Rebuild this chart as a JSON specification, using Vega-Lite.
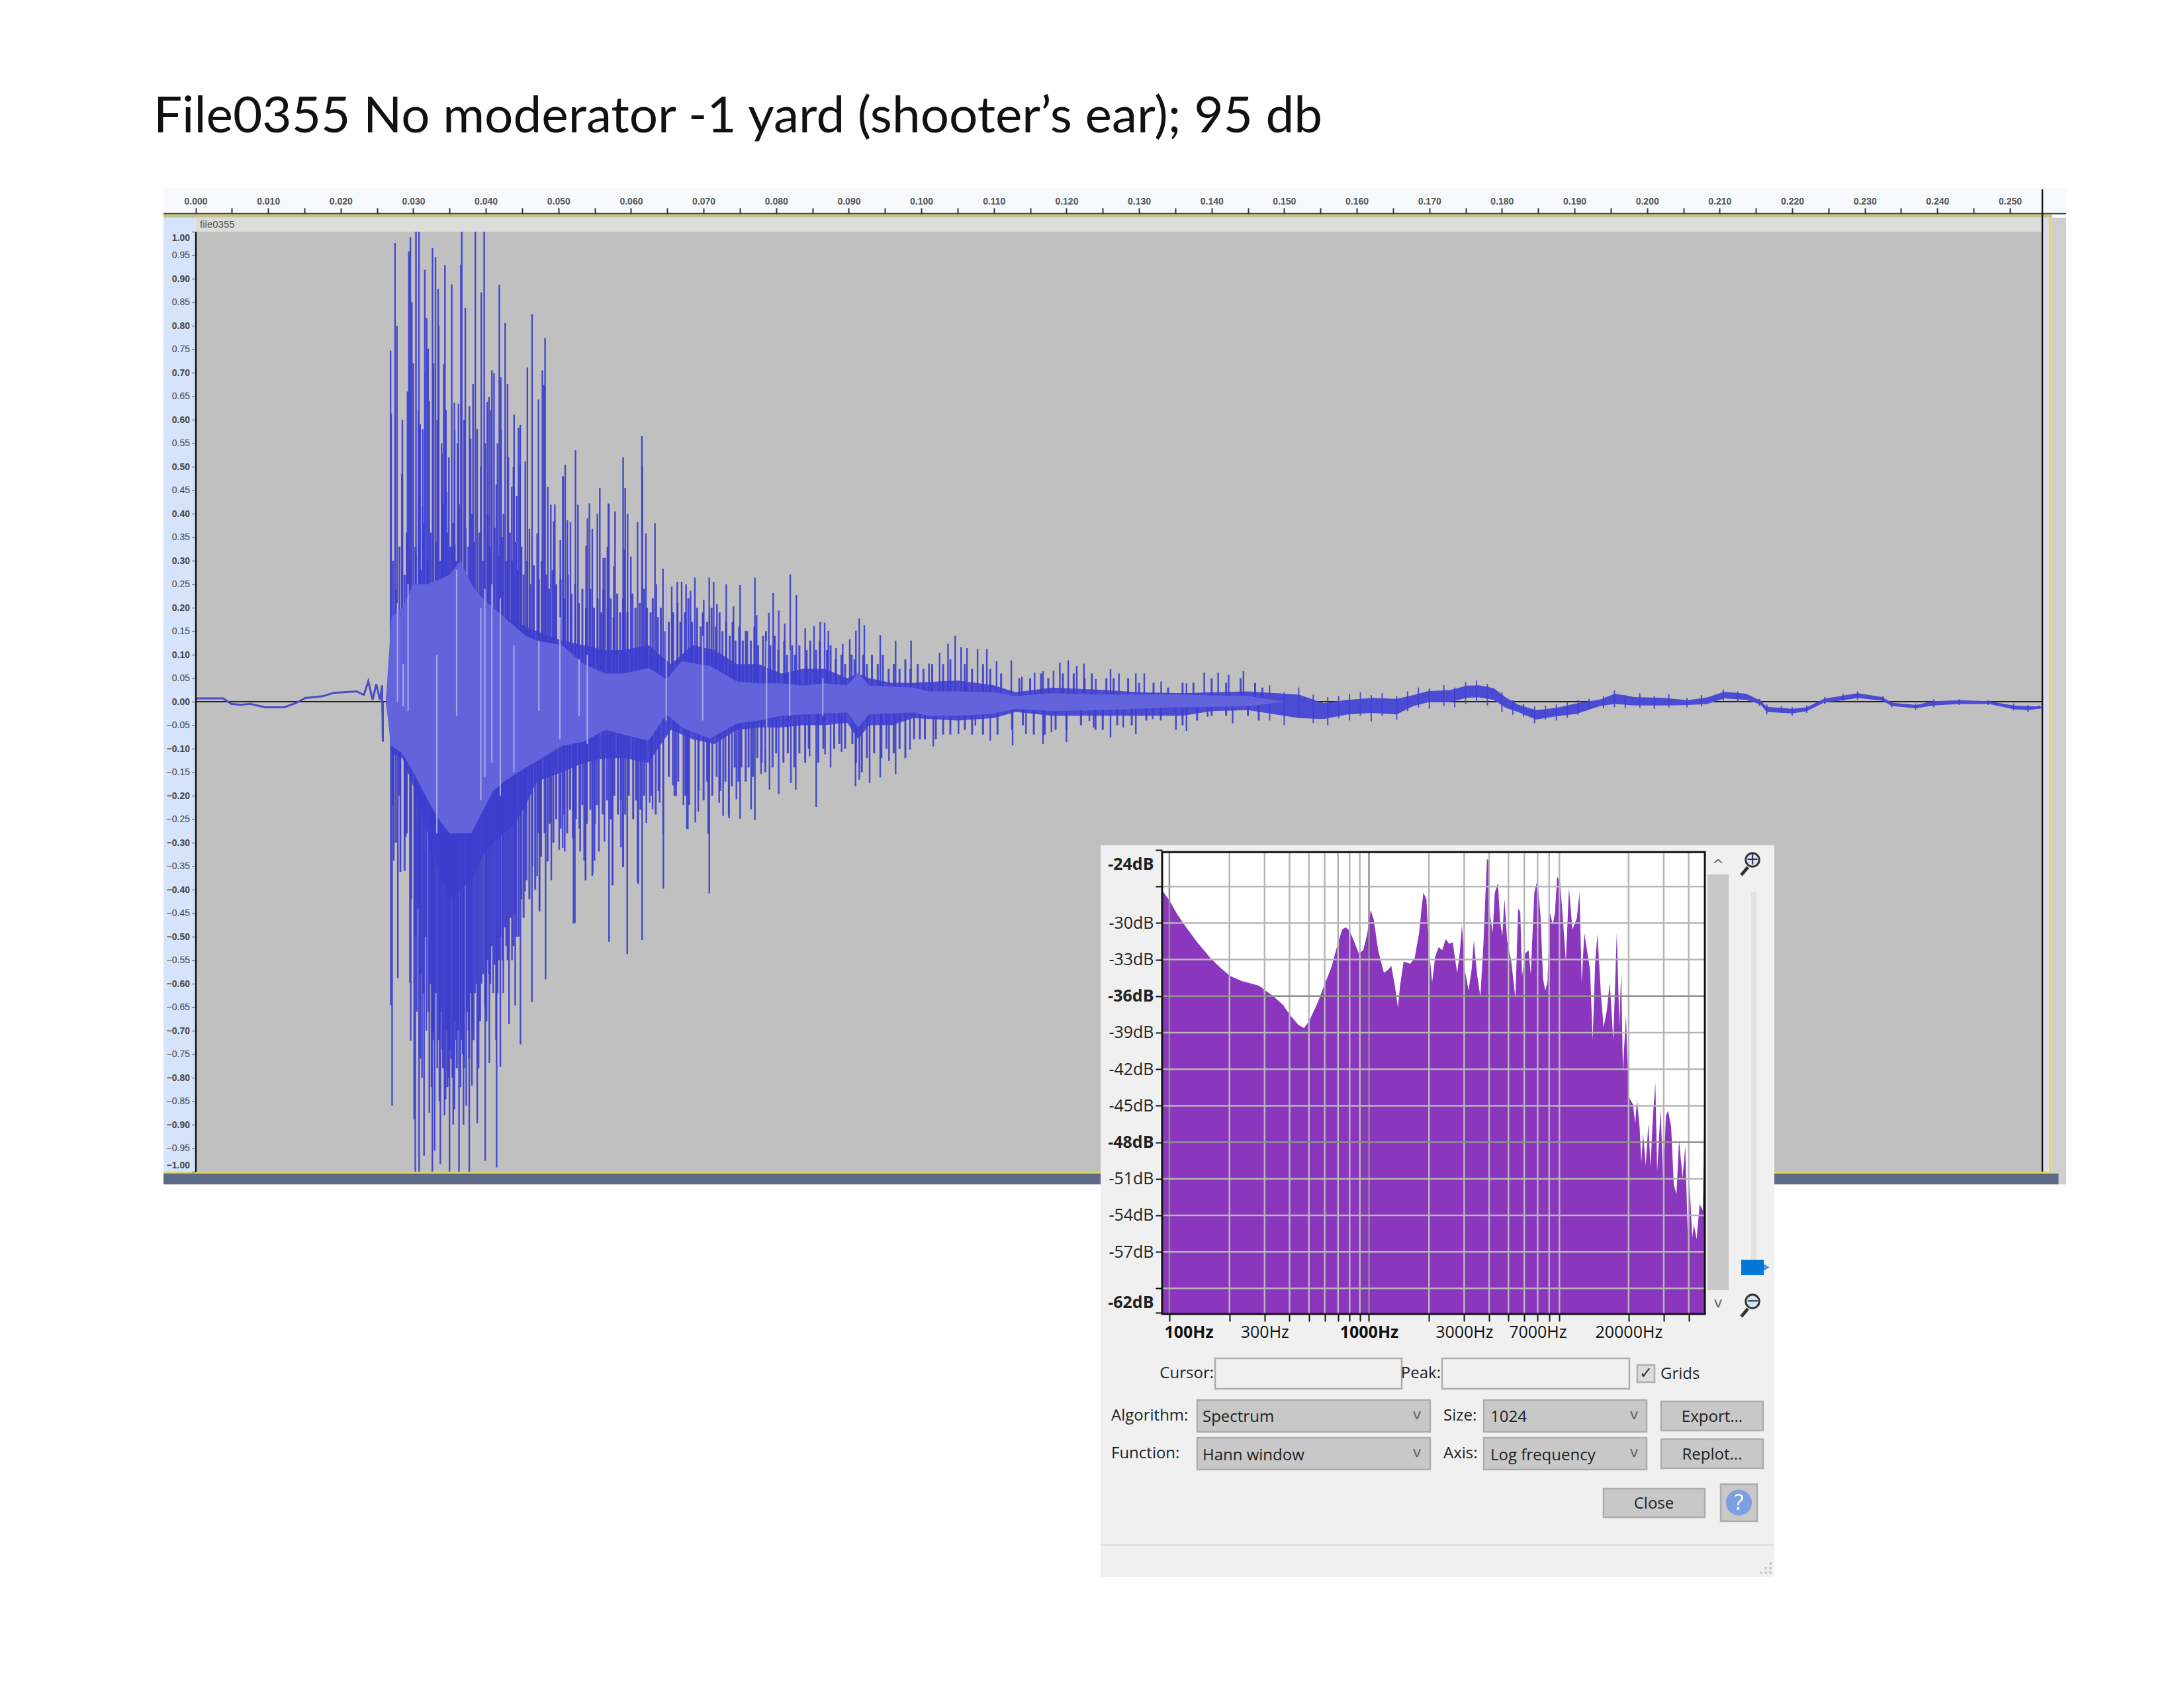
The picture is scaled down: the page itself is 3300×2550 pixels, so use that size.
{"$schema":"https://vega.github.io/schema/vega-lite/v6.json","width":3300,"height":2550,"padding":0,"autosize":{"type":"none"},"background":"white",
"title":{"text":"File0355 No moderator -1 yard (shooter’s ear); 95 db","anchor":"start","frame":"group","align":"left","baseline":"alphabetic","dx":232,"offset":-276,"font":"Lato","fontSize":76.5,"fontWeight":"normal","color":"#111111"},
"config":{"view":{"stroke":null}},
"resolve":{"scale":{"x":"independent","y":"independent","color":"independent"}},
"layer":[
{"encoding":{
"x":{"field":"t","type":"quantitative","title":null,"scale":{"domain":[0,0.25447],"range":[295.5,3086],"nice":false,"zero":false},
"axis":{"orient":"top","offset":-323,"zindex":1,"domain":false,"grid":false,"tickSize":9,"tickColor":"#333333","tickWidth":2,"labelFont":"Liberation Sans","labelFontSize":14,"labelFontWeight":"bold","labelColor":"#555555","labelPadding":3,"labelFlush":false,"labelOverlap":false,"values":[0,0.005,0.01,0.015,0.02,0.025,0.03,0.035,0.04,0.045,0.05,0.055,0.06,0.065,0.07,0.075,0.08,0.085,0.09,0.095,0.1,0.105,0.11,0.115,0.12,0.125,0.13,0.135,0.14,0.145,0.15,0.155,0.16,0.165,0.17,0.175,0.18,0.185,0.19,0.195,0.2,0.205,0.21,0.215,0.22,0.225,0.23,0.235,0.24,0.245,0.25],"labelExpr":"round(datum.value*1000)%10==0?format(datum.value,'.3f'):''"}},
"y":{"field":"amp","type":"quantitative","title":null,"scale":{"domain":[-1,1],"range":[1770,350],"nice":false,"zero":false},
"axis":{"orient":"left","offset":-295.5,"zindex":1,"domain":true,"domainColor":"#111111","domainWidth":2.5,"grid":false,"tickSize":6,"tickColor":"#444444","labelFont":"Liberation Sans","labelFontSize":14,"labelColor":"#444444","labelPadding":3,"labelOverlap":false,"values":[-1,-0.95,-0.9,-0.85,-0.8,-0.75,-0.7,-0.65,-0.6,-0.55,-0.5,-0.45,-0.4,-0.35,-0.3,-0.25,-0.2,-0.15,-0.1,-0.05,0,0.05,0.1,0.15,0.2,0.25,0.3,0.35,0.4,0.45,0.5,0.55,0.6,0.65,0.7,0.75,0.8,0.85,0.9,0.95,1],"format":".2f",
"labelFontWeight":{"condition":{"test":"abs(round(datum.value*10)-datum.value*10)<0.01","value":"bold"},"value":"normal"},
"labelOffset":{"condition":[{"test":"datum.value==1","value":9},{"test":"datum.value==-1","value":-10}],"value":0}}}},
"layer":[
{"mark":{"type":"rect"},"data":{"values":[
{"part":"ruler","t":-0.00442,"t2":0.25775,"amp":1.0398,"amp2":1.0933},
{"part":"strip","t":-0.00442,"t2":0,"amp":-1.0075,"amp2":1.03},
{"part":"rulerline","t":-0.00442,"t2":0.25775,"amp":1.0368,"amp2":1.0398},
{"part":"olive","t":-0.00442,"t2":0.2558,"amp":1.03,"amp2":1.0368},
{"part":"header","t":0,"t2":0.25447,"amp":1,"amp2":1.03},
{"part":"plot","t":0,"t2":0.25447,"amp":-1,"amp2":1},
{"part":"edge","t":0.25447,"t2":0.2554,"amp":-1,"amp2":1.03},
{"part":"yellow","t":0.2554,"t2":0.2557,"amp":-1.004,"amp2":1.03},
{"part":"scroll","t":0.2557,"t2":0.25775,"amp":-1.027,"amp2":1.03},
{"part":"yellow","t":-0.00442,"t2":0.2557,"amp":-1.004,"amp2":-1},
{"part":"slate","t":-0.00442,"t2":0.2567,"amp":-1.027,"amp2":-1.004}]},
"encoding":{"x2":{"field":"t2"},"y2":{"field":"amp2"},"color":{"field":"part","type":"nominal","legend":null,"scale":{"domain":["ruler","strip","rulerline","olive","header","plot","edge","yellow","scroll","slate"],"range":["#f7f9fd","#d5e4fb","#45453c","#c4c48a","#dcdcd8","#c0c0c0","#dcdcec","#d8d860","#cfcfcf","#5f6988"]}}}},
{"mark":{"type":"rule","color":"#222222","strokeWidth":2},"data":{"values":[{"t":0,"t2":0.25447,"amp":0}]},"encoding":{"x2":{"field":"t2"}}},
{"mark":{"type":"rule","color":"#111111","strokeWidth":2.5},"data":{"values":[{"t":0.25447,"amp":-1,"amp2":1.09}]},"encoding":{"y2":{"field":"amp2"}}},
{"mark":{"type":"area","color":"#4b4bd3","interpolate":"linear"},"data":{"values":[
{"t":0.0263,"amp":0,"amp2":0},{"t":0.027,"amp":-0.11,"amp2":0.15},{"t":0.0285,"amp":-0.12,"amp2":0.16},{"t":0.03,"amp":-0.18,"amp2":0.18},{"t":0.032,"amp":-0.28,"amp2":0.2},{"t":0.0335,"amp":-0.36,"amp2":0.2},{"t":0.035,"amp":-0.42,"amp2":0.2},{"t":0.0365,"amp":-0.4,"amp2":0.22},{"t":0.038,"amp":-0.38,"amp2":0.2},{"t":0.0395,"amp":-0.33,"amp2":0.2},{"t":0.041,"amp":-0.3,"amp2":0.19},{"t":0.0425,"amp":-0.28,"amp2":0.18},{"t":0.044,"amp":-0.26,"amp2":0.17},{"t":0.0455,"amp":-0.22,"amp2":0.16},{"t":0.047,"amp":-0.17,"amp2":0.15},{"t":0.0505,"amp":-0.15,"amp2":0.13},{"t":0.0535,"amp":-0.13,"amp2":0.12},{"t":0.0565,"amp":-0.12,"amp2":0.11},{"t":0.059,"amp":-0.12,"amp2":0.11},{"t":0.0624,"amp":-0.13,"amp2":0.12},{"t":0.0655,"amp":-0.06,"amp2":0.08},{"t":0.0685,"amp":-0.08,"amp2":0.12},{"t":0.0715,"amp":-0.09,"amp2":0.11},{"t":0.0746,"amp":-0.06,"amp2":0.08},{"t":0.0776,"amp":-0.055,"amp2":0.08},{"t":0.0807,"amp":-0.055,"amp2":0.06},{"t":0.0837,"amp":-0.05,"amp2":0.07},{"t":0.0867,"amp":-0.05,"amp2":0.07},{"t":0.0898,"amp":-0.045,"amp2":0.05},{"t":0.0913,"amp":-0.08,"amp2":0.06},{"t":0.0928,"amp":-0.05,"amp2":0.05},{"t":0.0959,"amp":-0.05,"amp2":0.04},{"t":0.0989,"amp":-0.035,"amp2":0.04},{"t":0.105,"amp":-0.04,"amp2":0.045},{"t":0.11,"amp":-0.035,"amp2":0.035},{"t":0.113,"amp":-0.022,"amp2":0.02},{"t":0.118,"amp":-0.03,"amp2":0.03},{"t":0.125,"amp":-0.03,"amp2":0.025},{"t":0.13,"amp":-0.03,"amp2":0.02},{"t":0.136,"amp":-0.03,"amp2":0.018},{"t":0.14,"amp":-0.02,"amp2":0.02},{"t":0.145,"amp":-0.018,"amp2":0.022},{"t":0.152,"amp":-0.035,"amp2":0.015},{"t":0.15544,"amp":-0.037,"amp2":-0.003},{"t":0.15879,"amp":-0.027,"amp2":0.004},{"t":0.16213,"amp":-0.024,"amp2":0.008},{"t":0.16548,"amp":-0.027,"amp2":0.006},{"t":0.16782,"amp":-0.009,"amp2":0.014},{"t":0.16983,"amp":-0.0015,"amp2":0.0225},{"t":0.17284,"amp":-0.001,"amp2":0.0245},{"t":0.17518,"amp":0.0085,"amp2":0.034},{"t":0.17685,"amp":0.009,"amp2":0.035},{"t":0.17886,"amp":0.004,"amp2":0.029},{"t":0.18053,"amp":-0.013,"amp2":0.009},{"t":0.1822,"amp":-0.022,"amp2":-0.006},{"t":0.18468,"amp":-0.038,"amp2":-0.018},{"t":0.18756,"amp":-0.031,"amp2":-0.013},{"t":0.19023,"amp":-0.026,"amp2":-0.004},{"t":0.19358,"amp":-0.009,"amp2":0.005},{"t":0.19558,"amp":-0.005,"amp2":0.017},{"t":0.19826,"amp":-0.008,"amp2":0.01},{"t":0.20227,"amp":-0.008,"amp2":0.008},{"t":0.20562,"amp":-0.007,"amp2":0.003},{"t":0.2083,"amp":-0.005,"amp2":0.009},{"t":0.21064,"amp":0.007,"amp2":0.021},{"t":0.21365,"amp":0.004,"amp2":0.017},{"t":0.21566,"amp":-0.006,"amp2":0.002},{"t":0.21646,"amp":-0.022,"amp2":-0.011},{"t":0.22001,"amp":-0.025,"amp2":-0.015},{"t":0.22201,"amp":-0.02,"amp2":-0.012},{"t":0.22435,"amp":-0.002,"amp2":0.006},{"t":0.22703,"amp":0.003,"amp2":0.013},{"t":0.22904,"amp":0.008,"amp2":0.018},{"t":0.23238,"amp":0.002,"amp2":0.01},{"t":0.23372,"amp":-0.009,"amp2":-0.002},{"t":0.23707,"amp":-0.014,"amp2":-0.007},{"t":0.23941,"amp":-0.008,"amp2":0.001},{"t":0.24309,"amp":-0.005,"amp2":0.003},{"t":0.2471,"amp":-0.005,"amp2":0.001},{"t":0.25045,"amp":-0.016,"amp2":-0.008},{"t":0.25246,"amp":-0.018,"amp2":-0.01},{"t":0.25446,"amp":-0.014,"amp2":-0.01}]},
"encoding":{"y2":{"field":"amp2"}}},
{"mark":{"type":"rule","color":"#4040cf","strokeWidth":2.4,"opacity":0.95},"data":{"values":[
{"t":0.02687,"amp":0.747},{"t":0.02695,"amp":0.613},{"t":0.02748,"amp":0.976},{"t":0.02775,"amp":0.8},{"t":0.0285,"amp":0.483},{"t":0.02939,"amp":0.958},{"t":0.0296,"amp":0.988},{"t":0.0298,"amp":0.85},{"t":0.03037,"amp":1},{"t":0.03078,"amp":1},{"t":0.03094,"amp":0.59},{"t":0.03159,"amp":0.919},{"t":0.03184,"amp":0.817},{"t":0.03204,"amp":0.751},{"t":0.03265,"amp":0.965},{"t":0.03306,"amp":0.946},{"t":0.03342,"amp":0.878},{"t":0.0335,"amp":0.8},{"t":0.03395,"amp":0.528},{"t":0.03436,"amp":0.929},{"t":0.0342,"amp":0.718},{"t":0.0353,"amp":0.888},{"t":0.03566,"amp":0.636},{"t":0.03623,"amp":0.634},{"t":0.03656,"amp":0.93},{"t":0.03668,"amp":1},{"t":0.03717,"amp":0.838},{"t":0.03774,"amp":0.629},{"t":0.03823,"amp":0.676},{"t":0.03855,"amp":1},{"t":0.03937,"amp":0.871},{"t":0.03977,"amp":1},{"t":0.04018,"amp":0.638},{"t":0.04043,"amp":0.648},{"t":0.04083,"amp":0.705},{"t":0.04112,"amp":0.699},{"t":0.04185,"amp":0.887},{"t":0.04205,"amp":0.69},{"t":0.04266,"amp":0.806},{"t":0.04299,"amp":0.676},{"t":0.04389,"amp":0.611},{"t":0.0445,"amp":0.583},{"t":0.04474,"amp":0.589},{"t":0.04543,"amp":0.511},{"t":0.04572,"amp":0.711},{"t":0.04637,"amp":0.824},{"t":0.04726,"amp":0.643},{"t":0.04779,"amp":0.705},{"t":0.048,"amp":0.674},{"t":0.04816,"amp":0.774},{"t":0.0495,"amp":0.42},{"t":0.05064,"amp":0.479},{"t":0.05093,"amp":0.504},{"t":0.05235,"amp":0.535},{"t":0.05427,"amp":0.422},{"t":0.054,"amp":0.39},{"t":0.0557,"amp":0.455},{"t":0.05695,"amp":0.42},{"t":0.0578,"amp":0.405},{"t":0.0592,"amp":0.455},{"t":0.05675,"amp":0.33},{"t":0.05907,"amp":0.325},{"t":0.0615,"amp":0.565},{"t":0.0633,"amp":0.38},
{"t":0.0285,"amp":0.6},{"t":0.0292,"amp":0.66},{"t":0.03,"amp":0.72},{"t":0.0307,"amp":0.62},{"t":0.0313,"amp":0.58},{"t":0.0316,"amp":0.7},{"t":0.0322,"amp":0.64},{"t":0.0328,"amp":0.72},{"t":0.0333,"amp":0.6},{"t":0.0339,"amp":0.55},{"t":0.0345,"amp":0.62},{"t":0.0349,"amp":0.52},{"t":0.0357,"amp":0.58},{"t":0.0361,"amp":0.55},{"t":0.037,"amp":0.6},{"t":0.0379,"amp":0.56},{"t":0.0388,"amp":0.58},{"t":0.0393,"amp":0.5},{"t":0.0399,"amp":0.55},{"t":0.0407,"amp":0.62},{"t":0.0416,"amp":0.55},{"t":0.0421,"amp":0.58},{"t":0.0431,"amp":0.52},{"t":0.0438,"amp":0.5},{"t":0.0447,"amp":0.5},
{"t":0.02843,"amp":0.485},{"t":0.03035,"amp":0.311},{"t":0.03126,"amp":0.417},{"t":0.0346,"amp":0.447},{"t":0.03536,"amp":0.33},{"t":0.03573,"amp":0.335},{"t":0.04144,"amp":0.462},{"t":0.04242,"amp":0.4},{"t":0.04357,"amp":0.457},{"t":0.04424,"amp":0.438},{"t":0.046,"amp":0.368},{"t":0.04707,"amp":0.358},{"t":0.04853,"amp":0.457},{"t":0.04895,"amp":0.419},{"t":0.04935,"amp":0.384},{"t":0.05026,"amp":0.344},{"t":0.05062,"amp":0.48},{"t":0.05123,"amp":0.386},{"t":0.05166,"amp":0.382},{"t":0.05269,"amp":0.419},{"t":0.05381,"amp":0.332},{"t":0.05466,"amp":0.368},{"t":0.05536,"amp":0.4},{"t":0.05618,"amp":0.306},{"t":0.05643,"amp":0.306},{"t":0.05688,"amp":0.422},{"t":0.05764,"amp":0.288},{"t":0.05892,"amp":0.52},{"t":0.05953,"amp":0.4},{"t":0.05998,"amp":0.309},{"t":0.0609,"amp":0.382},{"t":0.06156,"amp":0.5},{"t":0.06205,"amp":0.358},
{"t":0.0644,"amp":0.283},{"t":0.06348,"amp":0.25},{"t":0.06561,"amp":0.245},{"t":0.06637,"amp":0.255},{"t":0.06698,"amp":0.255},{"t":0.06759,"amp":0.25},{"t":0.0682,"amp":0.236},{"t":0.0688,"amp":0.264},{"t":0.07002,"amp":0.217},{"t":0.07078,"amp":0.264},{"t":0.07139,"amp":0.255},{"t":0.07184,"amp":0.208},{"t":0.07312,"amp":0.25},{"t":0.07412,"amp":0.203},{"t":0.07503,"amp":0.248},{"t":0.07579,"amp":0.151},{"t":0.07707,"amp":0.264},{"t":0.07731,"amp":0.184},{"t":0.07899,"amp":0.189},{"t":0.07959,"amp":0.231},{"t":0.08035,"amp":0.194},{"t":0.08118,"amp":0.166},{"t":0.08194,"amp":0.271},{"t":0.08279,"amp":0.227},{"t":0.084,"amp":0.156},{"t":0.08522,"amp":0.161},{"t":0.08607,"amp":0.17},{"t":0.08668,"amp":0.168},{"t":0.08719,"amp":0.151},{"t":0.08826,"amp":0.114},{"t":0.08917,"amp":0.123},{"t":0.09014,"amp":0.133},{"t":0.09099,"amp":0.151},{"t":0.09145,"amp":0.177},{"t":0.09215,"amp":0.163},{"t":0.09434,"amp":0.142},{"t":0.09646,"amp":0.13},{"t":0.09859,"amp":0.13},
{"t":0.10106,"amp":0.081},{"t":0.10252,"amp":0.104},{"t":0.10368,"amp":0.123},{"t":0.10467,"amp":0.14},{"t":0.10548,"amp":0.116},{"t":0.1063,"amp":0.114},{"t":0.10775,"amp":0.112},{"t":0.10903,"amp":0.112},{"t":0.11037,"amp":0.086},{"t":0.1124,"amp":0.088},{"t":0.11386,"amp":0.053},{"t":0.11561,"amp":0.062},{"t":0.11677,"amp":0.065},{"t":0.11822,"amp":0.066},{"t":0.11909,"amp":0.083},{"t":0.12025,"amp":0.088},{"t":0.12142,"amp":0.076},{"t":0.12241,"amp":0.081},{"t":0.12404,"amp":0.048},{"t":0.12607,"amp":0.069},{"t":0.12723,"amp":0.06},{"t":0.12956,"amp":0.06},{"t":0.13072,"amp":0.06},{"t":0.13305,"amp":0.043},{"t":0.13654,"amp":0.039},{"t":0.13898,"amp":0.062},{"t":0.1409,"amp":0.062},{"t":0.14235,"amp":0.057},{"t":0.14439,"amp":0.065},
{"t":0.02583,"amp":-0.085},{"t":0.02692,"amp":-0.646},{"t":0.02708,"amp":-0.86},{"t":0.02787,"amp":-0.588},{"t":0.02823,"amp":-0.362},{"t":0.02886,"amp":-0.285},{"t":0.02954,"amp":-0.598},{"t":0.02965,"amp":-0.722},{"t":0.03012,"amp":-0.889},{"t":0.03028,"amp":-1},{"t":0.0308,"amp":-1},{"t":0.03096,"amp":-0.759},{"t":0.03148,"amp":-0.966},{"t":0.03221,"amp":-0.875},{"t":0.03263,"amp":-1},{"t":0.03295,"amp":-0.955},{"t":0.03373,"amp":-0.984},{"t":0.03446,"amp":-0.846},{"t":0.03499,"amp":-1},{"t":0.03567,"amp":-0.868},{"t":0.0363,"amp":-1},{"t":0.03692,"amp":-0.9},{"t":0.03771,"amp":-1},{"t":0.03808,"amp":-0.817},{"t":0.03881,"amp":-0.897},{"t":0.03991,"amp":-0.977},{"t":0.04048,"amp":-0.769},{"t":0.04148,"amp":-0.991},{"t":0.042,"amp":-0.777},{"t":0.0432,"amp":-0.686},{"t":0.04404,"amp":-0.646},{"t":0.04477,"amp":-0.729},{"t":0.04635,"amp":-0.639},{"t":0.04823,"amp":-0.591},{"t":0.0474,"amp":-0.446},{"t":0.04902,"amp":-0.38},{"t":0.05059,"amp":-0.311},{"t":0.05226,"amp":-0.471},{"t":0.05373,"amp":-0.38},{"t":0.05472,"amp":-0.366},{"t":0.05697,"amp":-0.511},{"t":0.05744,"amp":-0.391},{"t":0.0589,"amp":-0.351},{"t":0.05948,"amp":-0.537},{"t":0.06153,"amp":-0.507},{"t":0.061,"amp":-0.388},{"t":0.06446,"amp":-0.398},{"t":0.07079,"amp":-0.408},{"t":0.0677,"amp":-0.271},{"t":0.07503,"amp":-0.249},{"t":0.07346,"amp":-0.242},
{"t":0.0305,"amp":-0.66},{"t":0.0312,"amp":-0.8},{"t":0.0318,"amp":-0.7},{"t":0.0325,"amp":-0.82},{"t":0.0328,"amp":-0.72},{"t":0.0333,"amp":-0.78},{"t":0.0336,"amp":-0.85},{"t":0.034,"amp":-0.74},{"t":0.0343,"amp":-0.88},{"t":0.0348,"amp":-0.8},{"t":0.0352,"amp":-0.76},{"t":0.0355,"amp":-0.9},{"t":0.0359,"amp":-0.72},{"t":0.0365,"amp":-0.82},{"t":0.0368,"amp":-0.75},{"t":0.0373,"amp":-0.86},{"t":0.0376,"amp":-0.7},{"t":0.0381,"amp":-0.7},{"t":0.0385,"amp":-0.62},{"t":0.039,"amp":-0.78},{"t":0.0394,"amp":-0.6},{"t":0.0401,"amp":-0.68},{"t":0.0404,"amp":-0.58},{"t":0.041,"amp":-0.62},{"t":0.0414,"amp":-0.72},{"t":0.0418,"amp":-0.55},{"t":0.0424,"amp":-0.62},{"t":0.0428,"amp":-0.52},{"t":0.0436,"amp":-0.55},{"t":0.0442,"amp":-0.5},
{"t":0.02731,"amp":-0.338},{"t":0.02822,"amp":-0.362},{"t":0.02898,"amp":-0.287},{"t":0.03232,"amp":-0.322},{"t":0.04539,"amp":-0.404},{"t":0.04707,"amp":-0.371},{"t":0.04737,"amp":-0.444},{"t":0.05087,"amp":-0.319},{"t":0.0501,"amp":-0.315},{"t":0.05208,"amp":-0.472},{"t":0.05299,"amp":-0.319},{"t":0.05354,"amp":-0.338},{"t":0.05375,"amp":-0.38},{"t":0.05466,"amp":-0.371},{"t":0.05497,"amp":-0.338},{"t":0.05558,"amp":-0.319},{"t":0.05634,"amp":-0.298},{"t":0.05746,"amp":-0.39},{"t":0.05862,"amp":-0.31},{"t":0.05892,"amp":-0.352},{"t":0.0609,"amp":-0.385},{"t":0.06211,"amp":-0.258},
{"t":0.06257,"amp":-0.215},{"t":0.06297,"amp":-0.229},{"t":0.06394,"amp":-0.215},{"t":0.06443,"amp":-0.281},{"t":0.06576,"amp":-0.178},{"t":0.06622,"amp":-0.201},{"t":0.06722,"amp":-0.22},{"t":0.06783,"amp":-0.271},{"t":0.06886,"amp":-0.257},{"t":0.06926,"amp":-0.234},{"t":0.07063,"amp":-0.281},{"t":0.07215,"amp":-0.215},{"t":0.07269,"amp":-0.243},{"t":0.07351,"amp":-0.248},{"t":0.07452,"amp":-0.208},{"t":0.07655,"amp":-0.229},{"t":0.07707,"amp":-0.252},{"t":0.07792,"amp":-0.154},{"t":0.07908,"amp":-0.187},{"t":0.08035,"amp":-0.196},{"t":0.08203,"amp":-0.173},{"t":0.0827,"amp":-0.187},{"t":0.08552,"amp":-0.224},{"t":0.08461,"amp":-0.116},{"t":0.08674,"amp":-0.112},{"t":0.0875,"amp":-0.14},{"t":0.08902,"amp":-0.107},{"t":0.09093,"amp":-0.18},{"t":0.09145,"amp":-0.166},{"t":0.09288,"amp":-0.173},{"t":0.09434,"amp":-0.161},{"t":0.09646,"amp":-0.154},{"t":0.09555,"amp":-0.126},{"t":0.09844,"amp":-0.102},
{"t":0.10165,"amp":-0.095},{"t":0.10513,"amp":-0.069},{"t":0.1095,"amp":-0.083},{"t":0.10746,"amp":-0.051},{"t":0.11258,"amp":-0.093},{"t":0.11443,"amp":-0.069},{"t":0.11677,"amp":-0.09},{"t":0.11793,"amp":-0.065},{"t":0.12,"amp":-0.086},{"t":0.12316,"amp":-0.041},{"t":0.12374,"amp":-0.055},{"t":0.12607,"amp":-0.076},{"t":0.12782,"amp":-0.055},{"t":0.12956,"amp":-0.069},{"t":0.13188,"amp":-0.037},{"t":0.13508,"amp":-0.06},{"t":0.13654,"amp":-0.062},{"t":0.13945,"amp":-0.032},{"t":0.1429,"amp":-0.046}]},
"encoding":{"y2":{"datum":0}}},
{"mark":{"type":"rule","color":"#3c3ccd","strokeWidth":3,"opacity":0.9},"data":{"values":[
{"t":0.0272,"amp":0.3},{"t":0.0276,"amp":0.24},{"t":0.0281,"amp":0.33},{"t":0.0288,"amp":0.27},{"t":0.0291,"amp":0.36},{"t":0.0295,"amp":0.3},{"t":0.0303,"amp":0.33},{"t":0.031,"amp":0.28},{"t":0.0315,"amp":0.38},{"t":0.032,"amp":0.3},{"t":0.0324,"amp":0.36},{"t":0.0331,"amp":0.34},{"t":0.0337,"amp":0.3},{"t":0.0341,"amp":0.42},{"t":0.0347,"amp":0.36},{"t":0.0351,"amp":0.33},{"t":0.0355,"amp":0.38},{"t":0.0359,"amp":0.3},{"t":0.0363,"amp":0.42},{"t":0.0372,"amp":0.37},{"t":0.0376,"amp":0.33},{"t":0.0381,"amp":0.4},{"t":0.0384,"amp":0.34},{"t":0.0391,"amp":0.36},{"t":0.0396,"amp":0.3},{"t":0.0402,"amp":0.4},{"t":0.0405,"amp":0.33},{"t":0.0412,"amp":0.37},{"t":0.0418,"amp":0.31},{"t":0.0423,"amp":0.35},{"t":0.0428,"amp":0.3},{"t":0.0433,"amp":0.36},{"t":0.0436,"amp":0.3},{"t":0.0441,"amp":0.34},{"t":0.0444,"amp":0.28},{"t":0.0449,"amp":0.33},{"t":0.0452,"amp":0.27},{"t":0.0457,"amp":0.3},{"t":0.0461,"amp":0.25},{"t":0.0466,"amp":0.29},{"t":0.0473,"amp":0.26},{"t":0.0477,"amp":0.3},{"t":0.0483,"amp":0.27},{"t":0.0487,"amp":0.24},{"t":0.0492,"amp":0.28},{"t":0.0497,"amp":0.25},{"t":0.0503,"amp":0.26},{"t":0.0508,"amp":0.22},{"t":0.0513,"amp":0.27},{"t":0.0518,"amp":0.23},{"t":0.0523,"amp":0.25},{"t":0.0528,"amp":0.21},{"t":0.0533,"amp":0.24},{"t":0.0538,"amp":0.2},{"t":0.0544,"amp":0.24},{"t":0.0549,"amp":0.2},{"t":0.0554,"amp":0.22},{"t":0.0559,"amp":0.19},{"t":0.0562,"amp":0.24},{"t":0.0568,"amp":0.2},{"t":0.0572,"amp":0.22},{"t":0.0576,"amp":0.18},{"t":0.0581,"amp":0.23},{"t":0.0585,"amp":0.19},{"t":0.0589,"amp":0.22},{"t":0.0595,"amp":0.19},{"t":0.0602,"amp":0.23},{"t":0.0606,"amp":0.2},{"t":0.0612,"amp":0.21},{"t":0.0618,"amp":0.24},{"t":0.0622,"amp":0.2},{"t":0.0627,"amp":0.19},{"t":0.063,"amp":0.22},{"t":0.0637,"amp":0.18},{"t":0.0641,"amp":0.2},{"t":0.0647,"amp":0.15},{"t":0.0652,"amp":0.17},{"t":0.0658,"amp":0.19},{"t":0.0664,"amp":0.21},{"t":0.0668,"amp":0.17},{"t":0.0674,"amp":0.19},{"t":0.0679,"amp":0.22},{"t":0.0684,"amp":0.17},{"t":0.0691,"amp":0.2},{"t":0.0696,"amp":0.16},{"t":0.0699,"amp":0.19},{"t":0.0705,"amp":0.17},{"t":0.0711,"amp":0.2},{"t":0.0717,"amp":0.16},{"t":0.0722,"amp":0.19},{"t":0.0726,"amp":0.15},{"t":0.0731,"amp":0.17},{"t":0.0736,"amp":0.14},{"t":0.074,"amp":0.17},{"t":0.0744,"amp":0.13},{"t":0.0749,"amp":0.16},{"t":0.0754,"amp":0.13},{"t":0.076,"amp":0.15},{"t":0.0765,"amp":0.13},{"t":0.077,"amp":0.16},{"t":0.0775,"amp":0.12},{"t":0.0782,"amp":0.14},{"t":0.0786,"amp":0.15},{"t":0.0792,"amp":0.12},{"t":0.0798,"amp":0.14},{"t":0.0803,"amp":0.11},{"t":0.0811,"amp":0.13},{"t":0.0815,"amp":0.1},{"t":0.0822,"amp":0.12},{"t":0.0826,"amp":0.1},{"t":0.0832,"amp":0.12},{"t":0.0842,"amp":0.11},{"t":0.0847,"amp":0.13},{"t":0.0855,"amp":0.11},{"t":0.086,"amp":0.13},{"t":0.087,"amp":0.11},{"t":0.0875,"amp":0.12},{"t":0.0882,"amp":0.09},{"t":0.089,"amp":0.1},{"t":0.0895,"amp":0.08},{"t":0.0904,"amp":0.1},{"t":0.0908,"amp":0.09},{"t":0.092,"amp":0.1},{"t":0.0925,"amp":0.08},{"t":0.0932,"amp":0.1},{"t":0.094,"amp":0.08},{"t":0.0947,"amp":0.1},{"t":0.0955,"amp":0.07},{"t":0.0962,"amp":0.08},{"t":0.097,"amp":0.07},{"t":0.0978,"amp":0.09},{"t":0.0985,"amp":0.07},{"t":0.0995,"amp":0.08},{"t":0.1003,"amp":0.07},{"t":0.1015,"amp":0.08},{"t":0.103,"amp":0.08},{"t":0.104,"amp":0.09},{"t":0.106,"amp":0.08},{"t":0.107,"amp":0.07},{"t":0.1085,"amp":0.08},{"t":0.1095,"amp":0.07},{"t":0.111,"amp":0.06},{"t":0.1135,"amp":0.05},{"t":0.115,"amp":0.05},{"t":0.1165,"amp":0.06},{"t":0.1175,"amp":0.05},{"t":0.1195,"amp":0.06},{"t":0.121,"amp":0.06},{"t":0.1225,"amp":0.05},{"t":0.1235,"amp":0.06},{"t":0.1255,"amp":0.05},{"t":0.1265,"amp":0.05},{"t":0.1285,"amp":0.05},{"t":0.13,"amp":0.04},{"t":0.132,"amp":0.04},{"t":0.134,"amp":0.03},{"t":0.136,"amp":0.04},{"t":0.1375,"amp":0.04},{"t":0.14,"amp":0.05},{"t":0.142,"amp":0.04},{"t":0.144,"amp":0.05},{"t":0.146,"amp":0.04},{"t":0.147,"amp":0.03},
{"t":0.0272,"amp":-0.22},{"t":0.0276,"amp":-0.3},{"t":0.0281,"amp":-0.2},{"t":0.0288,"amp":-0.36},{"t":0.0291,"amp":-0.28},{"t":0.0297,"amp":-0.42},{"t":0.0303,"amp":-0.5},{"t":0.0307,"amp":-0.44},{"t":0.031,"amp":-0.58},{"t":0.0314,"amp":-0.62},{"t":0.0317,"amp":-0.5},{"t":0.0321,"amp":-0.66},{"t":0.0324,"amp":-0.6},{"t":0.0327,"amp":-0.7},{"t":0.0331,"amp":-0.62},{"t":0.0335,"amp":-0.72},{"t":0.0338,"amp":-0.66},{"t":0.0341,"amp":-0.78},{"t":0.0345,"amp":-0.7},{"t":0.0347,"amp":-0.82},{"t":0.035,"amp":-0.74},{"t":0.0354,"amp":-0.8},{"t":0.0357,"amp":-0.68},{"t":0.036,"amp":-0.78},{"t":0.0362,"amp":-0.7},{"t":0.0366,"amp":-0.72},{"t":0.037,"amp":-0.78},{"t":0.0374,"amp":-0.66},{"t":0.0377,"amp":-0.76},{"t":0.0379,"amp":-0.62},{"t":0.0383,"amp":-0.72},{"t":0.0387,"amp":-0.6},{"t":0.0392,"amp":-0.68},{"t":0.0396,"amp":-0.58},{"t":0.0399,"amp":-0.65},{"t":0.0402,"amp":-0.55},{"t":0.0406,"amp":-0.6},{"t":0.0408,"amp":-0.52},{"t":0.0412,"amp":-0.56},{"t":0.0416,"amp":-0.62},{"t":0.042,"amp":-0.5},{"t":0.0423,"amp":-0.55},{"t":0.0426,"amp":-0.48},{"t":0.043,"amp":-0.55},{"t":0.0434,"amp":-0.46},{"t":0.0438,"amp":-0.52},{"t":0.044,"amp":-0.45},{"t":0.0445,"amp":-0.5},{"t":0.0449,"amp":-0.42},{"t":0.0452,"amp":-0.46},{"t":0.0456,"amp":-0.38},{"t":0.046,"amp":-0.42},{"t":0.0464,"amp":-0.35},{"t":0.0468,"amp":-0.4},{"t":0.0472,"amp":-0.28},{"t":0.0476,"amp":-0.33},{"t":0.0481,"amp":-0.28},{"t":0.0485,"amp":-0.34},{"t":0.0488,"amp":-0.26},{"t":0.0493,"amp":-0.3},{"t":0.0497,"amp":-0.25},{"t":0.0503,"amp":-0.27},{"t":0.0508,"amp":-0.24},{"t":0.0512,"amp":-0.28},{"t":0.0516,"amp":-0.23},{"t":0.052,"amp":-0.29},{"t":0.0524,"amp":-0.25},{"t":0.0529,"amp":-0.27},{"t":0.0533,"amp":-0.22},{"t":0.0539,"amp":-0.26},{"t":0.0544,"amp":-0.23},{"t":0.055,"amp":-0.26},{"t":0.0553,"amp":-0.22},{"t":0.0561,"amp":-0.24},{"t":0.0567,"amp":-0.21},{"t":0.0572,"amp":-0.25},{"t":0.0577,"amp":-0.2},{"t":0.0582,"amp":-0.24},{"t":0.0586,"amp":-0.21},{"t":0.0592,"amp":-0.24},{"t":0.0597,"amp":-0.2},{"t":0.0603,"amp":-0.25},{"t":0.0607,"amp":-0.21},{"t":0.0613,"amp":-0.23},{"t":0.0618,"amp":-0.2},{"t":0.0628,"amp":-0.2},{"t":0.0634,"amp":-0.24},{"t":0.0638,"amp":-0.19},{"t":0.0652,"amp":-0.16},{"t":0.066,"amp":-0.2},{"t":0.0665,"amp":-0.17},{"t":0.0675,"amp":-0.2},{"t":0.068,"amp":-0.22},{"t":0.0693,"amp":-0.19},{"t":0.07,"amp":-0.21},{"t":0.0705,"amp":-0.17},{"t":0.0712,"amp":-0.2},{"t":0.0718,"amp":-0.16},{"t":0.0723,"amp":-0.19},{"t":0.073,"amp":-0.17},{"t":0.0739,"amp":-0.18},{"t":0.0743,"amp":-0.14},{"t":0.0748,"amp":-0.17},{"t":0.0752,"amp":-0.14},{"t":0.0758,"amp":-0.17},{"t":0.0762,"amp":-0.14},{"t":0.0768,"amp":-0.16},{"t":0.0774,"amp":-0.12},{"t":0.078,"amp":-0.13},{"t":0.0785,"amp":-0.15},{"t":0.0795,"amp":-0.14},{"t":0.08,"amp":-0.11},{"t":0.081,"amp":-0.13},{"t":0.0816,"amp":-0.11},{"t":0.0825,"amp":-0.14},{"t":0.0832,"amp":-0.11},{"t":0.084,"amp":-0.13},{"t":0.0845,"amp":-0.1},{"t":0.0858,"amp":-0.13},{"t":0.0865,"amp":-0.1},{"t":0.088,"amp":-0.1},{"t":0.0887,"amp":-0.09},{"t":0.0895,"amp":-0.1},{"t":0.0905,"amp":-0.09},{"t":0.091,"amp":-0.13},{"t":0.0918,"amp":-0.15},{"t":0.0925,"amp":-0.12},{"t":0.0935,"amp":-0.11},{"t":0.0945,"amp":-0.12},{"t":0.0952,"amp":-0.1},{"t":0.0962,"amp":-0.11},{"t":0.097,"amp":-0.1},{"t":0.0978,"amp":-0.12},{"t":0.099,"amp":-0.08},{"t":0.0998,"amp":-0.08},{"t":0.1005,"amp":-0.08},{"t":0.102,"amp":-0.08},{"t":0.103,"amp":-0.07},{"t":0.104,"amp":-0.07},{"t":0.106,"amp":-0.06},{"t":0.107,"amp":-0.07},{"t":0.1085,"amp":-0.07},{"t":0.1105,"amp":-0.07},{"t":0.1125,"amp":-0.06},{"t":0.114,"amp":-0.05},{"t":0.1155,"amp":-0.07},{"t":0.117,"amp":-0.07},{"t":0.1185,"amp":-0.06},{"t":0.12,"amp":-0.06},{"t":0.122,"amp":-0.05},{"t":0.124,"amp":-0.06},{"t":0.125,"amp":-0.06},{"t":0.127,"amp":-0.05},{"t":0.129,"amp":-0.05},{"t":0.131,"amp":-0.04},{"t":0.133,"amp":-0.04},{"t":0.136,"amp":-0.05},{"t":0.138,"amp":-0.04},{"t":0.14,"amp":-0.03},{"t":0.142,"amp":-0.03},{"t":0.145,"amp":-0.03},{"t":0.1465,"amp":-0.04}]},
"encoding":{"y2":{"datum":0}}},
{"mark":{"type":"rule","color":"#4040cf","strokeWidth":2,"opacity":0.9},"data":{"values":[
{"t":0.148,"amp":-0.04,"amp2":0.035},{"t":0.15,"amp":-0.05,"amp2":0.02},{"t":0.152,"amp":-0.035,"amp2":0.03},{"t":0.154,"amp":-0.045,"amp2":0.015},{"t":0.156,"amp":-0.05,"amp2":0.01},{"t":0.1575,"amp":-0.035,"amp2":0.012},{"t":0.159,"amp":-0.04,"amp2":0.016},{"t":0.1605,"amp":-0.03,"amp2":0.02},{"t":0.162,"amp":-0.042,"amp2":0.014},{"t":0.1635,"amp":-0.03,"amp2":0.018},{"t":0.1655,"amp":-0.038,"amp2":0.012},{"t":0.167,"amp":-0.02,"amp2":0.022},{"t":0.1685,"amp":-0.012,"amp2":0.03},{"t":0.17,"amp":-0.015,"amp2":0.028},{"t":0.172,"amp":-0.01,"amp2":0.035},{"t":0.1735,"amp":-0.012,"amp2":0.03},{"t":0.175,"amp":-0.005,"amp2":0.042},{"t":0.1765,"amp":-0.002,"amp2":0.045},{"t":0.178,"amp":-0.008,"amp2":0.038},{"t":0.18,"amp":-0.022,"amp2":0.02},{"t":0.1815,"amp":-0.028,"amp2":0.003},{"t":0.183,"amp":-0.032,"amp2":-0.005},{"t":0.1845,"amp":-0.046,"amp2":-0.01},{"t":0.186,"amp":-0.038,"amp2":-0.008},{"t":0.1875,"amp":-0.04,"amp2":-0.006},{"t":0.189,"amp":-0.034,"amp2":0},{"t":0.1905,"amp":-0.028,"amp2":0.004},{"t":0.192,"amp":-0.015,"amp2":0.006},{"t":0.194,"amp":-0.014,"amp2":0.012},{"t":0.1955,"amp":-0.012,"amp2":0.024},{"t":0.197,"amp":-0.014,"amp2":0.014},{"t":0.199,"amp":-0.013,"amp2":0.018},{"t":0.201,"amp":-0.015,"amp2":0.012},{"t":0.203,"amp":-0.012,"amp2":0.016},{"t":0.2055,"amp":-0.012,"amp2":0.008},{"t":0.2075,"amp":-0.01,"amp2":0.014},{"t":0.2105,"amp":0.002,"amp2":0.026},{"t":0.2125,"amp":0,"amp2":0.022},{"t":0.2155,"amp":-0.009,"amp2":0.006},{"t":0.2165,"amp":-0.027,"amp2":-0.006},{"t":0.2185,"amp":-0.024,"amp2":-0.01},{"t":0.22,"amp":-0.03,"amp2":-0.012},{"t":0.222,"amp":-0.024,"amp2":-0.008},{"t":0.2245,"amp":-0.005,"amp2":0.01},{"t":0.227,"amp":0,"amp2":0.017},{"t":0.229,"amp":0.004,"amp2":0.022},{"t":0.2325,"amp":0,"amp2":0.012},{"t":0.2337,"amp":-0.012,"amp2":0},{"t":0.237,"amp":-0.018,"amp2":-0.004},{"t":0.2395,"amp":-0.012,"amp2":0.005},{"t":0.243,"amp":-0.007,"amp2":0.005},{"t":0.247,"amp":-0.007,"amp2":0.003},{"t":0.2505,"amp":-0.019,"amp2":-0.004},{"t":0.2525,"amp":-0.022,"amp2":-0.007},{"t":0.254,"amp":-0.015,"amp2":-0.008}]},
"encoding":{"y2":{"field":"amp2"}}},
{"mark":{"type":"area","color":"#6364db"},"data":{"values":[
{"t":0.0262,"amp":0,"amp2":0},{"t":0.027,"amp":-0.094,"amp2":0.18},{"t":0.0285,"amp":-0.11,"amp2":0.2},{"t":0.03,"amp":-0.15,"amp2":0.25},{"t":0.032,"amp":-0.21,"amp2":0.25},{"t":0.0335,"amp":-0.25,"amp2":0.26},{"t":0.035,"amp":-0.28,"amp2":0.27},{"t":0.0365,"amp":-0.28,"amp2":0.3},{"t":0.038,"amp":-0.28,"amp2":0.25},{"t":0.0395,"amp":-0.235,"amp2":0.22},{"t":0.041,"amp":-0.19,"amp2":0.2},{"t":0.0425,"amp":-0.17,"amp2":0.18},{"t":0.044,"amp":-0.155,"amp2":0.16},{"t":0.0455,"amp":-0.14,"amp2":0.14},{"t":0.047,"amp":-0.127,"amp2":0.13},{"t":0.0505,"amp":-0.094,"amp2":0.12},{"t":0.0535,"amp":-0.085,"amp2":0.08},{"t":0.0565,"amp":-0.06,"amp2":0.06},{"t":0.059,"amp":-0.07,"amp2":0.06},{"t":0.0624,"amp":-0.083,"amp2":0.072},{"t":0.0649,"amp":-0.027,"amp2":0.048},{"t":0.067,"amp":-0.055,"amp2":0.086},{"t":0.0709,"amp":-0.079,"amp2":0.076},{"t":0.0746,"amp":-0.046,"amp2":0.043},{"t":0.0776,"amp":-0.04,"amp2":0.039},{"t":0.0807,"amp":-0.03,"amp2":0.039},{"t":0.0837,"amp":-0.027,"amp2":0.034},{"t":0.0867,"amp":-0.025,"amp2":0.039},{"t":0.0898,"amp":-0.023,"amp2":0.035},{"t":0.0913,"amp":-0.055,"amp2":0.062},{"t":0.0928,"amp":-0.027,"amp2":0.034},{"t":0.0989,"amp":-0.023,"amp2":0.03},{"t":0.101,"amp":-0.03,"amp2":0.022},{"t":0.105,"amp":-0.03,"amp2":0.022},{"t":0.11,"amp":-0.025,"amp2":0.02},{"t":0.113,"amp":-0.015,"amp2":0.012},{"t":0.118,"amp":-0.02,"amp2":0.018},{"t":0.125,"amp":-0.018,"amp2":0.015},{"t":0.135,"amp":-0.012,"amp2":0.015},{"t":0.145,"amp":-0.01,"amp2":0.012},{"t":0.15,"amp":0,"amp2":0}]},
"encoding":{"y2":{"field":"amp2"}}},
{"mark":{"type":"rule","color":"#a9abe9","strokeWidth":2},"data":{"values":[
{"t":0.02782,"amp":0,"amp2":0.21},{"t":0.02861,"amp":-0.01,"amp2":0.08},{"t":0.02928,"amp":-0.02,"amp2":0.25},{"t":0.03324,"amp":-0.28,"amp2":0.1},{"t":0.03597,"amp":-0.03,"amp2":0.28},{"t":0.03931,"amp":-0.21,"amp2":0.2},{"t":0.03986,"amp":-0.16,"amp2":0.24},{"t":0.04083,"amp":-0.13,"amp2":0.25},{"t":0.04199,"amp":-0.2,"amp2":0.22},{"t":0.04387,"amp":-0.15,"amp2":0.12},{"t":0.04731,"amp":-0.02,"amp2":0.13},{"t":0.0502,"amp":-0.08,"amp2":0.18},{"t":0.05284,"amp":-0.03,"amp2":0.09},{"t":0.05397,"amp":-0.09,"amp2":0.1},{"t":0.06485,"amp":-0.04,"amp2":0.25},{"t":0.06987,"amp":-0.04,"amp2":0.14},{"t":0.07868,"amp":-0.1,"amp2":0.13},{"t":0.08187,"amp":-0.03,"amp2":0.11},{"t":0.08643,"amp":-0.03,"amp2":0.05}]},
"encoding":{"y2":{"field":"amp2"}}},
{"mark":{"type":"line","color":"#4b4bc4","strokeWidth":3},"data":{"values":[
{"t":0,"amp":0.0071},{"t":0.0018,"amp":0.0071},{"t":0.0038,"amp":0.0071},{"t":0.0049,"amp":-0.0045},{"t":0.0062,"amp":-0.0067},{"t":0.0075,"amp":-0.0045},{"t":0.0096,"amp":-0.0118},{"t":0.0122,"amp":-0.0118},{"t":0.0138,"amp":-0.0031},{"t":0.0151,"amp":0.0078},{"t":0.0175,"amp":0.0115},{"t":0.019,"amp":0.0187},{"t":0.0222,"amp":0.0217},{"t":0.0232,"amp":0.0144},{"t":0.0238,"amp":0.0435},{"t":0.0244,"amp":0.0035},{"t":0.0249,"amp":0.0377},{"t":0.0254,"amp":0.0035},{"t":0.0257,"amp":0.0347},{"t":0.0258,"amp":-0.085}]}},
{"mark":{"type":"text","font":"Liberation Sans","fontSize":15,"color":"#555555","align":"left","baseline":"middle"},"data":{"values":[{"t":0.0006,"amp":1.015,"label":"file0355"}]},"encoding":{"text":{"field":"label"}}}
]},
{"encoding":{
"x":{"field":"dx","type":"quantitative","title":null,"axis":null,"scale":{"domain":[0,1018],"range":[1663,2681],"nice":false,"zero":false}},
"y":{"field":"dy","type":"quantitative","title":null,"axis":null,"scale":{"domain":[0,1105],"range":[1277,2382],"nice":false,"zero":false}}},
"layer":[
{"mark":{"type":"rect"},"data":{"values":[
{"part":"panel","dx":0,"dx2":1018,"dy":0,"dy2":1105},
{"part":"divider","dx":0,"dx2":1018,"dy":1056,"dy2":1058},
{"part":"track","dx":917,"dx2":949,"dy":44,"dy2":672},
{"part":"rail","dx":983,"dx2":991,"dy":71,"dy2":628},
{"part":"thumb","dx":968,"dx2":1002,"dy":626,"dy2":649}]},
"encoding":{"x2":{"field":"dx2"},"y2":{"field":"dy2"},"color":{"field":"part","type":"nominal","legend":null,"scale":{"domain":["panel","divider","track","rail","thumb"],"range":["#f0f0f0","#dcdcdc","#c8c8c8","#e2e2e2","#0078d7"]}}}},
{"mark":{"type":"rect","stroke":"#adadad","strokeWidth":2.5},"data":{"values":[
{"part":"field","dx":173,"dx2":455,"dy":775,"dy2":821},
{"part":"field","dx":516,"dx2":799,"dy":775,"dy2":821},
{"part":"box","dx":811,"dx2":837,"dy":785,"dy2":811},
{"part":"control","dx":146,"dx2":498,"dy":838,"dy2":886},
{"part":"control","dx":579,"dx2":825,"dy":838,"dy2":886},
{"part":"control","dx":847,"dx2":1001,"dy":840,"dy2":884},
{"part":"control","dx":146,"dx2":498,"dy":895,"dy2":943},
{"part":"control","dx":579,"dx2":825,"dy":895,"dy2":943},
{"part":"control","dx":847,"dx2":1001,"dy":897,"dy2":941},
{"part":"control","dx":760,"dx2":913,"dy":972,"dy2":1015},
{"part":"control","dx":937,"dx2":992,"dy":965,"dy2":1021}]},
"encoding":{"x2":{"field":"dx2"},"y2":{"field":"dy2"},"color":{"field":"part","type":"nominal","legend":null,"scale":{"domain":["field","box","control"],"range":["#f4f4f4","#f4f4f4","#e1e1e1"]}}}},
{"mark":{"type":"point","shape":"triangle-right","filled":true,"color":"#0078d7","size":420},"data":{"values":[{"dx":1002,"dy":637.5}]}},
{"mark":{"type":"point","shape":"circle","filled":true,"color":"#5b8def","size":1520},"data":{"values":[{"dx":964.5,"dy":993}]}},
{"mark":{"type":"point","shape":"square","filled":true,"color":"#b4b4b4","size":12},"data":{"values":[{"dx":1012,"dy":1092},{"dx":1012,"dy":1099},{"dx":1005,"dy":1099},{"dx":998,"dy":1099},{"dx":1005,"dy":1092},{"dx":1012,"dy":1085}]}},
{"mark":{"type":"rule","color":"#333333","strokeWidth":5},"data":{"values":[{"dx":978,"dx2":968,"dy":33,"dy2":45},{"dx":978,"dx2":968,"dy":700,"dy2":712}]},"encoding":{"x2":{"field":"dx2"},"y2":{"field":"dy2"}}},
{"mark":{"type":"point","shape":"circle","filled":true,"color":"#d7e4f6","stroke":"#333333","strokeWidth":3,"fillOpacity":1,"size":420},"data":{"values":[{"dx":985,"dy":22},{"dx":985,"dy":689}]}},
{"mark":{"type":"text","font":"Open Sans","fontSize":24,"color":"#222222","align":"left","baseline":"middle"},"data":{"values":[{"dx":846,"dy":799,"label":"Grids"},{"dx":16,"dy":862,"label":"Algorithm:"},{"dx":154,"dy":864,"label":"Spectrum"},{"dx":518,"dy":862,"label":"Size:"},{"dx":589,"dy":864,"label":"1024"},{"dx":16,"dy":919,"label":"Function:"},{"dx":154,"dy":922,"label":"Hann window"},{"dx":518,"dy":919,"label":"Axis:"},{"dx":589,"dy":922,"label":"Log frequency"}]},"encoding":{"text":{"field":"label"}}},
{"mark":{"type":"text","font":"Open Sans","fontSize":24,"color":"#222222","align":"right","baseline":"middle"},"data":{"values":[{"dx":171,"dy":798,"label":"Cursor:"},{"dx":514,"dy":798,"label":"Peak:"}]},"encoding":{"text":{"field":"label"}}},
{"mark":{"type":"text","font":"Open Sans","fontSize":24,"color":"#222222","align":"center","baseline":"middle"},"data":{"values":[{"dx":924,"dy":864,"label":"Export..."},{"dx":924,"dy":921,"label":"Replot..."},{"dx":836,"dy":995,"label":"Close"}]},"encoding":{"text":{"field":"label"}}},
{"mark":{"type":"text","font":"DejaVu Sans","fontSize":22,"color":"#666666","align":"center","baseline":"middle"},"data":{"values":[{"dx":478,"dy":860,"label":"v"},{"dx":806,"dy":860,"label":"v"},{"dx":478,"dy":917,"label":"v"},{"dx":806,"dy":917,"label":"v"},{"dx":933,"dy":691,"label":"v"},{"dx":933,"dy":30,"label":"^"}]},"encoding":{"text":{"field":"label"}}},
{"mark":{"type":"text","font":"DejaVu Sans","fontSize":24,"color":"#333333","align":"center","baseline":"middle"},"data":{"values":[{"dx":824,"dy":798,"label":"✓"},{"dx":985,"dy":22,"label":"+"},{"dx":985,"dy":689,"label":"−"}]},"encoding":{"text":{"field":"label"}}},
{"mark":{"type":"text","font":"Open Sans","fontSize":32,"color":"white","align":"center","baseline":"middle"},"data":{"values":[{"dx":964.5,"dy":994,"label":"?"}]},"encoding":{"text":{"field":"label"}}}
]},
{"encoding":{
"x":{"field":"hz","type":"quantitative","title":null,"scale":{"type":"log","base":10,"domain":[92,48200],"range":[1756,2576],"nice":false},
"axis":{"orient":"bottom","offset":-565,"zindex":1,"domain":false,"grid":false,"tickSize":11,"tickColor":"#111111","tickWidth":2,"labelFont":"Open Sans","labelFontSize":25,"labelColor":"#111111","labelPadding":4,"labelOverlap":false,"labelFlush":false,"labelBound":false,
"values":[100,200,300,400,500,600,700,800,900,1000,2000,3000,4000,5000,6000,7000,8000,9000,20000,30000,40000],
"labelExpr":"indexof([100,300,1000,3000,7000,20000],datum.value)>=0?datum.value+'Hz':''",
"labelFontWeight":{"condition":{"test":"datum.value==100||datum.value==1000","value":"bold"},"value":"normal"},
"labelAlign":{"condition":{"test":"datum.value==100","value":"left"},"value":"center"},
"labelOffset":{"condition":{"test":"datum.value==100","value":-8},"value":0}}},
"y":{"field":"db","type":"quantitative","title":null,"scale":{"domain":[-62.1,-24],"range":[1985,1284],"nice":false,"zero":false},
"axis":{"orient":"left","offset":-1756,"zindex":1,"domain":false,"grid":false,"tickSize":10,"tickColor":"#111111","tickWidth":2,"labelFont":"Open Sans","labelFontSize":25,"labelColor":"#222222","labelPadding":3,"labelOverlap":false,
"values":[-24,-27,-30,-33,-36,-39,-42,-45,-48,-51,-54,-57,-60,-62],
"labelExpr":"datum.value==-27||datum.value==-60?'':datum.value+'dB'",
"labelFontWeight":{"condition":{"test":"datum.value==-24||datum.value==-36||datum.value==-48||datum.value==-62","value":"bold"},"value":"normal"},
"labelOffset":{"condition":[{"test":"datum.value==-24","value":21},{"test":"datum.value==-62","value":-16}],"value":0}}}},
"layer":[
{"mark":{"type":"rect","color":"white"},"data":{"values":[{"hz":92,"hz2":48200,"db":-62.1,"db2":-24.18}]},"encoding":{"x2":{"field":"hz2"},"y2":{"field":"db2"}}},
{"mark":{"type":"area","color":"#8a37bd"},"data":{"values":[
{"hz":92,"db":-27.31},{"hz":100,"db":-28.15},{"hz":110,"db":-29.34},{"hz":122,"db":-30.4},{"hz":138,"db":-31.58},{"hz":161,"db":-32.9},{"hz":183,"db":-33.77},{"hz":202,"db":-34.35},{"hz":229,"db":-34.75},{"hz":281,"db":-35.14},{"hz":303,"db":-35.54},{"hz":335,"db":-36.06},{"hz":371,"db":-36.72},{"hz":400,"db":-37.51},{"hz":443,"db":-38.36},{"hz":473,"db":-38.62},{"hz":502,"db":-38.04},{"hz":556,"db":-36.46},{"hz":600,"db":-35.01},{"hz":647,"db":-33.69},{"hz":698,"db":-31.71},{"hz":734,"db":-30.53},{"hz":765,"db":-30.34},{"hz":796,"db":-30.61},{"hz":834,"db":-31.32},{"hz":890,"db":-32.5},{"hz":936,"db":-32.24},{"hz":980,"db":-30.92},{"hz":1020,"db":-28.95},{"hz":1057,"db":-29.74},{"hz":1112,"db":-32.24},{"hz":1188,"db":-34.09},{"hz":1250,"db":-33.82},{"hz":1294,"db":-33.51},{"hz":1348,"db":-35.14},{"hz":1397,"db":-36.93},{"hz":1432,"db":-35.14},{"hz":1492,"db":-33.16},{"hz":1609,"db":-33.35},{"hz":1693,"db":-32.9},{"hz":1780,"db":-30.92},{"hz":1873,"db":-27.5},{"hz":1940,"db":-28.02},{"hz":2000,"db":-32.11},{"hz":2073,"db":-34.88},{"hz":2147,"db":-32.77},{"hz":2236,"db":-31.98},{"hz":2328,"db":-32.24},{"hz":2424,"db":-31.32},{"hz":2525,"db":-31.71},{"hz":2630,"db":-31.58},{"hz":2765,"db":-34.09},{"hz":2850,"db":-32.5},{"hz":2923,"db":-30.13},{"hz":3030,"db":-33.95},{"hz":3155,"db":-35.54},{"hz":3269,"db":-33.82},{"hz":3352,"db":-31.45},{"hz":3491,"db":-34.35},{"hz":3617,"db":-36.06},{"hz":3747,"db":-31.71},{"hz":3902,"db":-24.73},{"hz":3962,"db":-24.86},{"hz":4042,"db":-29.34},{"hz":4167,"db":-30.79},{"hz":4273,"db":-27.5},{"hz":4428,"db":-26.7},{"hz":4540,"db":-29.87},{"hz":4658,"db":-31.05},{"hz":4777,"db":-28.02},{"hz":4925,"db":-31.45},{"hz":5153,"db":-33.03},{"hz":5421,"db":-36.2},{"hz":5589,"db":-28.81},{"hz":5731,"db":-29.08},{"hz":5848,"db":-34.35},{"hz":6059,"db":-32.5},{"hz":6310,"db":-32.24},{"hz":6471,"db":-34.22},{"hz":6740,"db":-27.5},{"hz":6982,"db":-26.44},{"hz":7234,"db":-29.34},{"hz":7456,"db":-34.61},{"hz":7650,"db":-35.54},{"hz":7842,"db":-34.88},{"hz":8085,"db":-29.21},{"hz":8335,"db":-30.13},{"hz":8549,"db":-29.21},{"hz":8768,"db":-26.18},{"hz":9082,"db":-26.7},{"hz":9363,"db":-29.6},{"hz":9700,"db":-33.16},{"hz":10050,"db":-27.1},{"hz":10467,"db":-30.53},{"hz":11010,"db":-29.6},{"hz":11347,"db":-27.5},{"hz":11640,"db":-34.88},{"hz":12000,"db":-30.79},{"hz":12370,"db":-32.24},{"hz":12820,"db":-33.82},{"hz":13210,"db":-39.62},{"hz":13620,"db":-33.03},{"hz":13970,"db":-30.92},{"hz":14540,"db":-35.93},{"hz":14990,"db":-38.57},{"hz":15540,"db":-37.25},{"hz":16090,"db":-34.88},{"hz":16760,"db":-39.62},{"hz":17450,"db":-30.79},{"hz":17980,"db":-38.57},{"hz":18350,"db":-33.95},{"hz":18730,"db":-42.13},{"hz":19400,"db":-37.51},{"hz":19700,"db":-40.94},{"hz":20200,"db":-44.37},{"hz":21040,"db":-44.9},{"hz":21580,"db":-46.48},{"hz":22030,"db":-44.5},{"hz":22700,"db":-46.74},{"hz":23170,"db":-49.64},{"hz":23640,"db":-47.27},{"hz":24370,"db":-49.91},{"hz":25120,"db":-46.48},{"hz":25760,"db":-50.04},{"hz":26420,"db":-46.08},{"hz":27240,"db":-43.1},{"hz":27800,"db":-50.43},{"hz":28940,"db":-45.29},{"hz":29840,"db":-51.22},{"hz":30760,"db":-45.82},{"hz":31540,"db":-45.42},{"hz":32680,"db":-46.74},{"hz":33690,"db":-51.49},{"hz":34740,"db":-52.28},{"hz":35800,"db":-47.8},{"hz":37270,"db":-50.96},{"hz":38430,"db":-48.32},{"hz":39600,"db":-55.71},{"hz":40420,"db":-51.36},{"hz":41670,"db":-55.84},{"hz":42520,"db":-54.78},{"hz":43830,"db":-55.97},{"hz":45400,"db":-53.07},{"hz":47050,"db":-53.6},{"hz":47770,"db":-47.14},{"hz":48200,"db":-47.14}]},
"encoding":{"y2":{"datum":-62.1}}},
{"mark":{"type":"rule","color":"#b6b6b6","strokeWidth":2.5},"data":{"values":[{"hz":200,"db":-62.1,"db2":-24.18},{"hz":300,"db":-62.1,"db2":-24.18},{"hz":400,"db":-62.1,"db2":-24.18},{"hz":500,"db":-62.1,"db2":-24.18},{"hz":600,"db":-62.1,"db2":-24.18},{"hz":700,"db":-62.1,"db2":-24.18},{"hz":800,"db":-62.1,"db2":-24.18},{"hz":900,"db":-62.1,"db2":-24.18},{"hz":2000,"db":-62.1,"db2":-24.18},{"hz":3000,"db":-62.1,"db2":-24.18},{"hz":4000,"db":-62.1,"db2":-24.18},{"hz":5000,"db":-62.1,"db2":-24.18},{"hz":6000,"db":-62.1,"db2":-24.18},{"hz":7000,"db":-62.1,"db2":-24.18},{"hz":8000,"db":-62.1,"db2":-24.18},{"hz":9000,"db":-62.1,"db2":-24.18},{"hz":20000,"db":-62.1,"db2":-24.18},{"hz":30000,"db":-62.1,"db2":-24.18},{"hz":40000,"db":-62.1,"db2":-24.18}]},"encoding":{"y2":{"field":"db2"}}},
{"mark":{"type":"rule","color":"#8f8f8f","strokeWidth":2.5},"data":{"values":[{"hz":100,"db":-62.1,"db2":-24.18},{"hz":1000,"db":-62.1,"db2":-24.18}]},"encoding":{"y2":{"field":"db2"}}},
{"mark":{"type":"rule","color":"#b6b6b6","strokeWidth":2.5},"data":{"values":[{"hz":92,"hz2":48200,"db":-27},{"hz":92,"hz2":48200,"db":-30},{"hz":92,"hz2":48200,"db":-33},{"hz":92,"hz2":48200,"db":-39},{"hz":92,"hz2":48200,"db":-42},{"hz":92,"hz2":48200,"db":-45},{"hz":92,"hz2":48200,"db":-51},{"hz":92,"hz2":48200,"db":-54},{"hz":92,"hz2":48200,"db":-57},{"hz":92,"hz2":48200,"db":-60}]},"encoding":{"x2":{"field":"hz2"}}},
{"mark":{"type":"rule","color":"#8f8f8f","strokeWidth":2.5},"data":{"values":[{"hz":92,"hz2":48200,"db":-36},{"hz":92,"hz2":48200,"db":-48}]},"encoding":{"x2":{"field":"hz2"}}},
{"mark":{"type":"rect","fillOpacity":0,"stroke":"#111111","strokeWidth":3},"data":{"values":[{"hz":92,"hz2":48200,"db":-62.1,"db2":-24.18}]},"encoding":{"x2":{"field":"hz2"},"y2":{"field":"db2"}}}
]}
]}
